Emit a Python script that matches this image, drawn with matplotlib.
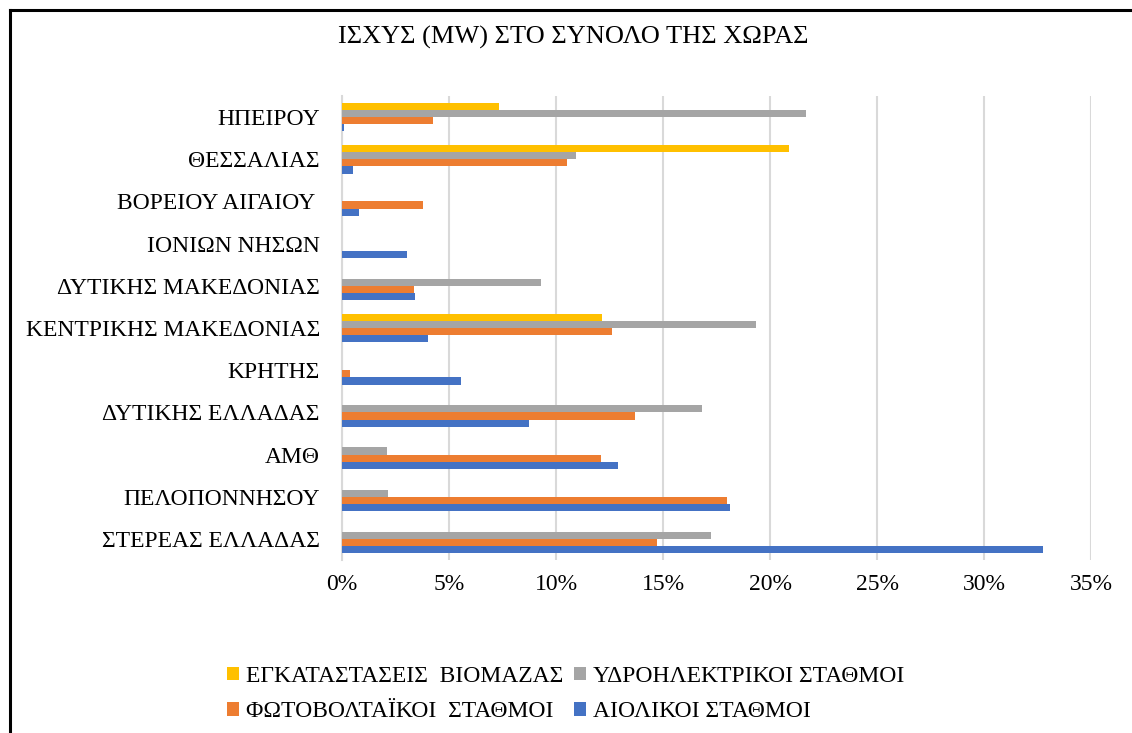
import matplotlib.pyplot as plt
import numpy as np
from matplotlib.lines import Line2D
from matplotlib.ticker import PercentFormatter

plt.rcParams['font.family'] = ['Liberation Serif', 'DejaVu Serif']

# regions, bottom to top as drawn
regions = ['ΣΤΕΡΕΑΣ ΕΛΛΑΔΑΣ', 'ΠΕΛΟΠΟΝΝΗΣΟΥ', 'ΑΜΘ', 'ΔΥΤΙΚΗΣ ΕΛΛΑΔΑΣ', 'ΚΡΗΤΗΣ',
           'ΚΕΝΤΡΙΚΗΣ ΜΑΚΕΔΟΝΙΑΣ', 'ΔΥΤΙΚΗΣ ΜΑΚΕΔΟΝΙΑΣ', 'ΙΟΝΙΩΝ ΝΗΣΩΝ',
           'ΒΟΡΕΙΟΥ ΑΙΓΑΙΟΥ ', 'ΘΕΣΣΑΛΙΑΣ', 'ΗΠΕΙΡΟΥ']

# shares in %
biomass = [0, 0, 0, 0, 0, 12.15, 0, 0, 0, 20.9, 7.34]
hydro = [17.24, 2.17, 2.12, 16.8, 0, 19.36, 9.31, 0, 0, 10.95, 21.7]
solar = [14.73, 18.0, 12.12, 13.68, 0.38, 12.6, 3.36, 0, 3.8, 10.5, 4.24]
wind = [32.75, 18.11, 12.92, 8.76, 5.54, 4.03, 3.43, 3.05, 0.81, 0.53, 0.1]

series_names = ['ΕΓΚΑΤΑΣΤΑΣΕΙΣ  ΒΙΟΜΑΖΑΣ', 'ΥΔΡΟΗΛΕΚΤΡΙΚΟΙ ΣΤΑΘΜΟΙ',
                'ΦΩΤΟΒΟΛΤΑΪΚΟΙ  ΣΤΑΘΜΟΙ', 'ΑΙΟΛΙΚΟΙ ΣΤΑΘΜΟΙ']
colors = ['#FFC000', '#A5A5A5', '#ED7D31', '#4472C4']

fig = plt.figure(figsize=(11.32, 7.33), dpi=100)
ax = fig.add_axes([0.3021, 0.236, 0.6617, 0.633])

y = np.arange(len(regions))
h = 0.17
offsets = [1.5 * h, 0.5 * h, -0.5 * h, -1.5 * h]
bars = []
for vals, off, c, name in zip([biomass, hydro, solar, wind], offsets, colors, series_names):
    b = ax.barh(y + off, np.array(vals) / 100, height=h, color=c, label=name, zorder=3)
    bars.append(b)

ax.set_xlim(0, 0.35)
ax.set_ylim(-0.5, 10.5)
ax.set_xticks(np.arange(0, 0.351, 0.05))
ax.xaxis.set_major_formatter(PercentFormatter(1.0, decimals=0))
ax.set_yticks(y)
ax.set_yticklabels(regions)
ax.tick_params(axis='both', length=0, labelsize=17, colors='#000000')
ax.tick_params(axis='x', pad=10)
ax.tick_params(axis='y', pad=16)
ax.grid(axis='x', color='#D9D9D9', linewidth=1.5, zorder=0)
for s in ['top', 'right', 'bottom']:
    ax.spines[s].set_visible(False)
ax.spines['left'].set_color('#D9D9D9')
ax.spines['left'].set_linewidth(1.5)

fig.text(0.506, 0.949, 'ΙΣΧΥΣ (MW) ΣΤΟ ΣΥΝΟΛΟ ΤΗΣ ΧΩΡΑΣ', ha='center', va='center', fontsize=19)

handles = [bars[0], bars[2], bars[1], bars[3]]
labels = [series_names[0], series_names[2], series_names[1], series_names[3]]
fig.legend(handles, labels, ncol=2, loc='center left', bbox_to_anchor=(0.182, 0.053),
           frameon=False, fontsize=17, handlelength=0.5, handleheight=0.5,
           handletextpad=0.3, columnspacing=0.45, labelspacing=0.6)

# frame edges of the original chart box
fig.add_artist(Line2D([0.009, 0.009], [0, 0.987], color='black', linewidth=2.2))
fig.add_artist(Line2D([0.009, 1.0], [0.987, 0.987], color='black', linewidth=2.2))

fig.savefig('out.png', dpi=100)
